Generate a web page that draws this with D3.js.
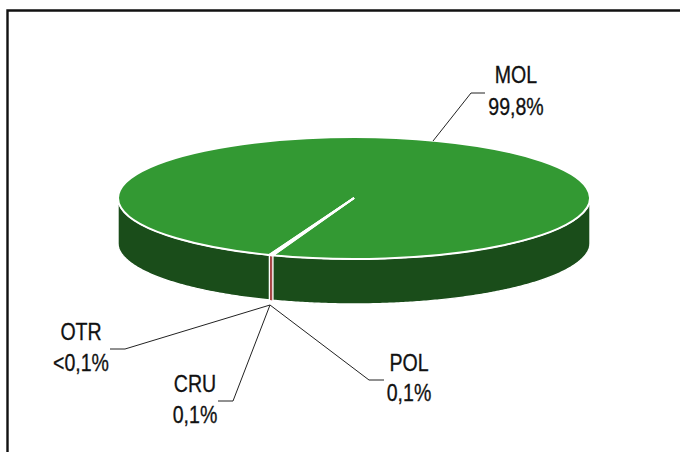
<!DOCTYPE html>
<html>
<head>
<meta charset="utf-8">
<script src="https://cdn.jsdelivr.net/npm/d3@7"></script>
<style>
    html, body { margin: 0; padding: 0; background: #fff; }
    svg { display: block; }
    text { font-family: "Liberation Sans", Arial, sans-serif; font-size: 23px; fill: #111; stroke: #111; stroke-width: 0.3px; text-anchor: middle; }
</style>
</head>
<body>
<svg id="chart" width="680" height="452"></svg>
<script>
// values
var categories = ["MOL", "POL", "CRU", "OTR"];
var shares = [99.8, 0.1, 0.1, 0.05];
var shareLabels = ["99,8%", "0,1%", "0,1%", "<0,1%"];
var topColors = ["#339933", "#990000", "#990000", "#990000"];
var sideColors = ["#1a4d1a", "#8c1010", "#8c1010", "#8c1010"];

var ctx = { cx: 354, cy: 198, rx: 236, ry: 61, depth: 45, start: 201.0 * Math.PI / 180, textSqueeze: 0.85 };

// label box per category: text centre, baselines, elbow line
var labelPos = {
    MOL: { x: 516, y1: 83, y2: 115, line: [[433, 141], [471, 93], [485, 93]] },
    POL: { x: 409, y1: 371, y2: 401, line: [[270, 305], [369, 380], [384, 380]] },
    CRU: { x: 195, y1: 392, y2: 423, line: [[270, 305], [233, 401], [218, 401]] },
    OTR: { x: 81, y1: 340, y2: 371, line: [[270, 305], [125, 349], [110, 349]] }
};

var svgEl = d3.select("#chart");

// frame runs off the right and bottom of the picture
svgEl.append("path")
    .attr("d", "M7.5,452V10.5H680")
    .attr("fill", "none")
    .attr("stroke", "#111")
    .attr("stroke-width", 2.4);

var pie = d3.pie().sort(null)
    .startAngle(ctx.start)
    .endAngle(ctx.start + 2 * Math.PI);
var slices = pie(shares);

var px = (a) => ctx.cx + ctx.rx * Math.sin(a);
var py = (a) => ctx.cy - ctx.ry * Math.cos(a);
var edge = d3.line().x((d) => d[0]).y((d) => d[1]);

// the side wall only shows on the front half of the ellipse
var wallPath = function(a0, a1) {
    var lo = Math.max(a0, Math.PI / 2), hi = Math.min(a1, 3 * Math.PI / 2);
    if (hi <= lo) return null;
    var angles = d3.range(lo, hi, 0.01).concat([hi]);
    var front = angles.map((a) => [px(a), py(a)]);
    var back = angles.slice().reverse().map((a) => [px(a), py(a) + ctx.depth]);
    return edge(front.concat(back)) + "Z";
};

// small slices first, MOL on top so its white edge trims the red strip
var wallG = svgEl.append("g").attr("class", "walls");
d3.range(slices.length - 1, -1, -1).forEach(function(i) {
    var s = slices[i];
    // MOL wraps past the full turn, so split it in two
    var parts = [[s.startAngle, s.endAngle], [s.startAngle - 2 * Math.PI, s.endAngle - 2 * Math.PI]];
    parts.forEach(function(p) {
        var d = wallPath(p[0], p[1]);
        if (d) {
            wallG.append("path")
                .attr("d", d)
                .attr("fill", sideColors[i])
                .attr("stroke", i === 0 ? "#fff" : "none")
                .attr("stroke-width", 1.4);
        }
    });
});

// top surface, big radius so the arc end points keep their precision
var arc = d3.arc().innerRadius(0).outerRadius(1000);
var topG = svgEl.append("g")
    .attr("transform", "translate(" + ctx.cx + "," + ctx.cy + ") scale(" + (ctx.rx / 1000) + "," + (ctx.ry / 1000) + ")");
topG.selectAll("path")
    .data(slices)
    .enter()
    .append("path")
    .attr("d", arc)
    .attr("fill", (d, i) => topColors[i])
    .attr("stroke", "#fff")
    .attr("stroke-width", 2)
    .attr("vector-effect", "non-scaling-stroke");

// leader lines and labels
categories.forEach(function(c, i) {
    var pos = labelPos[c];
    svgEl.append("path")
        .attr("d", edge(pos.line))
        .attr("fill", "none")
        .attr("stroke", "#222")
        .attr("stroke-width", 1);
    [[pos.y1, c], [pos.y2, shareLabels[i]]].forEach(function(t) {
        svgEl.append("text")
            .attr("transform", "translate(" + pos.x + "," + t[0] + ") scale(" + ctx.textSqueeze + ",1)")
            .text(t[1]);
    });
});
</script>
</body>
</html>
